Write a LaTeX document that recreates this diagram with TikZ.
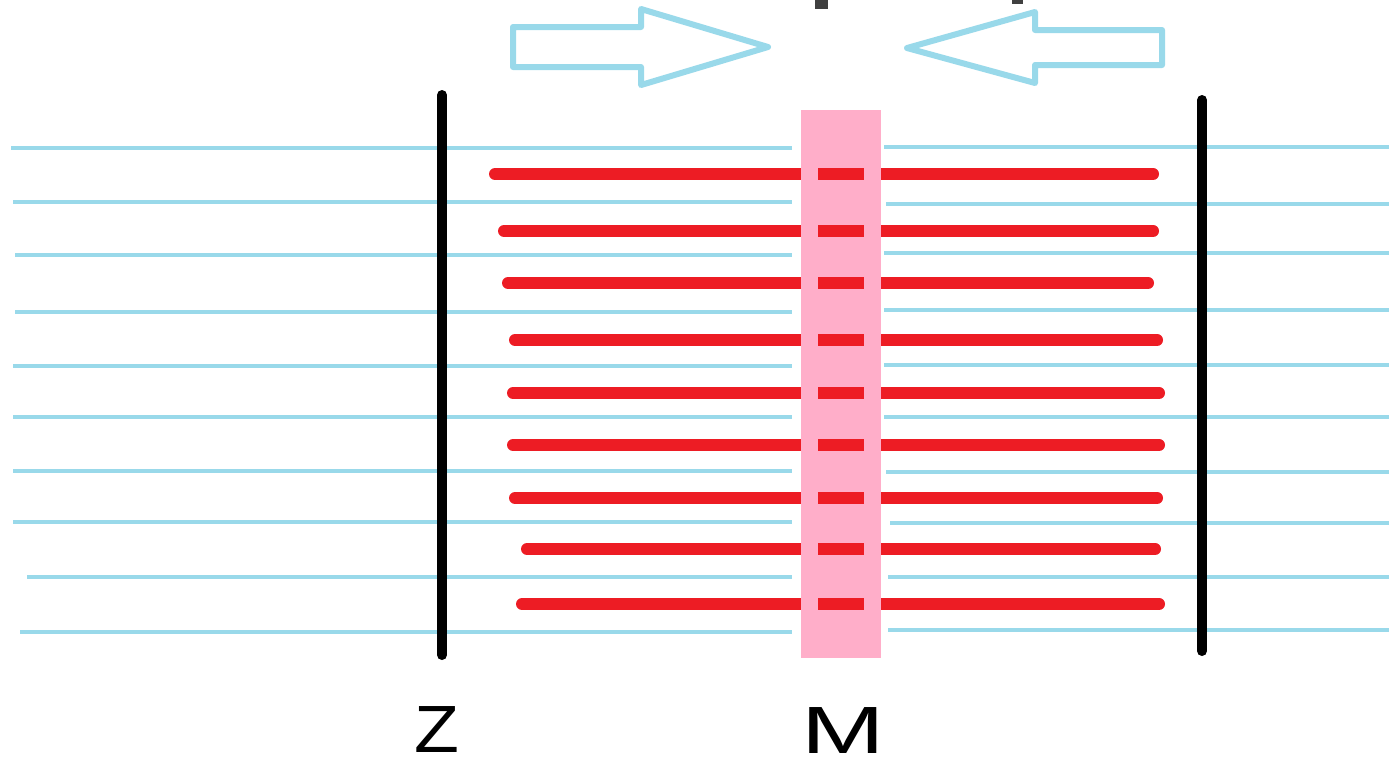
\documentclass[tikz,border=0pt]{standalone}
\usepackage{fontspec}
\setmainfont{Liberation Sans}
\definecolor{actin}{RGB}{153,217,234}
\definecolor{myosin}{RGB}{237,28,36}
\definecolor{mband}{RGB}{255,174,201}
\definecolor{edgegrey}{RGB}{64,64,64}
\tikzset{
  thin filament/.style={draw=actin,line width=4.5*0.2845pt},
  thick filament/.style={draw=myosin,line width=12*0.2845pt,line cap=round},
  mdash/.style={draw=myosin,line width=12*0.2845pt},
  zdisc/.style={draw=black,line width=10*0.2845pt,line cap=round},
  pull/.style={draw=actin,line width=6*0.2845pt,line join=round},
  letter/.style={font=\fontsize{19}{23}\selectfont,inner sep=0pt,anchor=center},
}
\begin{document}
\begin{tikzpicture}[x=0.01cm,y=-0.01cm]
\useasboundingbox (0,0) rectangle (1389,760);
\fill[white] (0,0) rectangle (1389,760);

% thin filaments, left half
\foreach \y/\xa in {148/11,202/13,255/15,312/15,366/13,417/13,471/13,522/13,577/27,632/20}
  \draw[thin filament] (\xa,\y) -- (792,\y);
% thin filaments, right half
\foreach \y/\xa in {147/884,204/886,253/884,310/884,365/884,417/884,472/886,523/890,577/888,630/888}
  \draw[thin filament] (\xa,\y) -- (1389,\y);

% thick filaments (end points sit one cap radius inside the rounded tips)
\foreach \y/\xa/\xb in {174/495/1153,231/504/1153,283/508/1148,340/515/1157,393/513/1159,445/513/1159,498/515/1157,549/527/1155,604/522/1159}
  \draw[thick filament] (\xa,\y) -- (\xb,\y);

% M band
\fill[mband] (801,110) rectangle (881,658);
\foreach \y in {174,231,283,340,393,445,498,549,604}
  \draw[mdash] (818,\y) -- (864,\y);

% Z discs
\draw[zdisc] (442,95) -- (442,655);
\draw[zdisc] (1202,100) -- (1202,651);

% pulling arrows
\draw[pull] (513,27) -- (641,27) -- (641,9) -- (768,47) -- (641,85) -- (641,67) -- (513,67) -- cycle;
\draw[pull] (1162,30) -- (1035,30) -- (1035,12) -- (907,48) -- (1035,83) -- (1035,65) -- (1162,65) -- cycle;

% marks at the top edge
\fill[edgegrey] (815,0) rectangle (828,9);
\fill[edgegrey] (1012,0) rectangle (1023,4);

% labels
\node[letter] (zlabel) at (437,729) {\scalebox{1.1}[1]{Z}};
\node[letter] (mlabel) at (843,730) {\scalebox{1.5}[1]{M}};
\end{tikzpicture}
\end{document}
